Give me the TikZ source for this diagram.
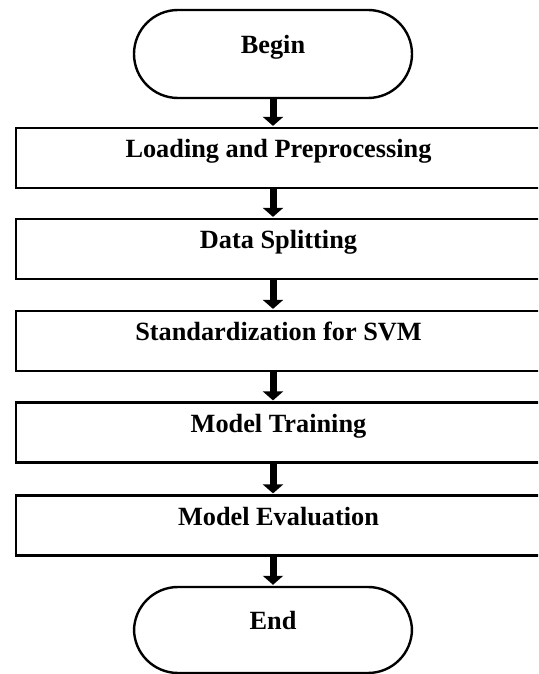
\documentclass[tikz,border=0pt]{standalone}
\usepackage{fontspec}
\setmainfont{Liberation Serif}
\usetikzlibrary{arrows.meta}

\tikzset{
  flowtext/.style={font=\fontsize{26.3}{30}\selectfont\bfseries,
    text height=0pt, text depth=0pt, inner sep=0pt},
  terminal/.style={flowtext, draw, line width=2.4pt, rounded corners=44pt,
    minimum width=278pt, minimum height=88pt},
  process/.style={flowtext, draw, line width=2.2pt,
    minimum width=525pt, minimum height=60pt},
  flowarrow/.style={line width=7pt,
    -{Triangle[width=20pt,length=9pt]}, shorten >=1pt},
}

\begin{document}
\begin{tikzpicture}[x=1pt,y=1pt]
  \useasboundingbox (0,0) rectangle (538,674);
  \clip (0,0) rectangle (538,674);

  % terminals and process steps
  \node[terminal] (begin) at (273,620) {Begin};
  \node[process] (load)  at (278.5,516)   {Loading and Preprocessing};
  \node[process] (split) at (278.5,425)   {Data Splitting};
  \node[process] (std)   at (278.5,333)   {Standardization for SVM};
  \node[process] (train) at (278.5,241.5) {Model Training};
  \node[process] (eval)  at (278.5,148.5) {Model Evaluation};
  \node[terminal, minimum height=86pt] (end) at (273,44) {End};

  % downward flow arrows
  \draw[flowarrow] (begin.south) -- (begin.south |- load.north);
  \draw[flowarrow] (begin.south |- load.south)  -- (begin.south |- split.north);
  \draw[flowarrow] (begin.south |- split.south) -- (begin.south |- std.north);
  \draw[flowarrow] (begin.south |- std.south)   -- (begin.south |- train.north);
  \draw[flowarrow] (begin.south |- train.south) -- (begin.south |- eval.north);
  \draw[flowarrow] (begin.south |- eval.south)  -- (end.north);
\end{tikzpicture}
\end{document}
